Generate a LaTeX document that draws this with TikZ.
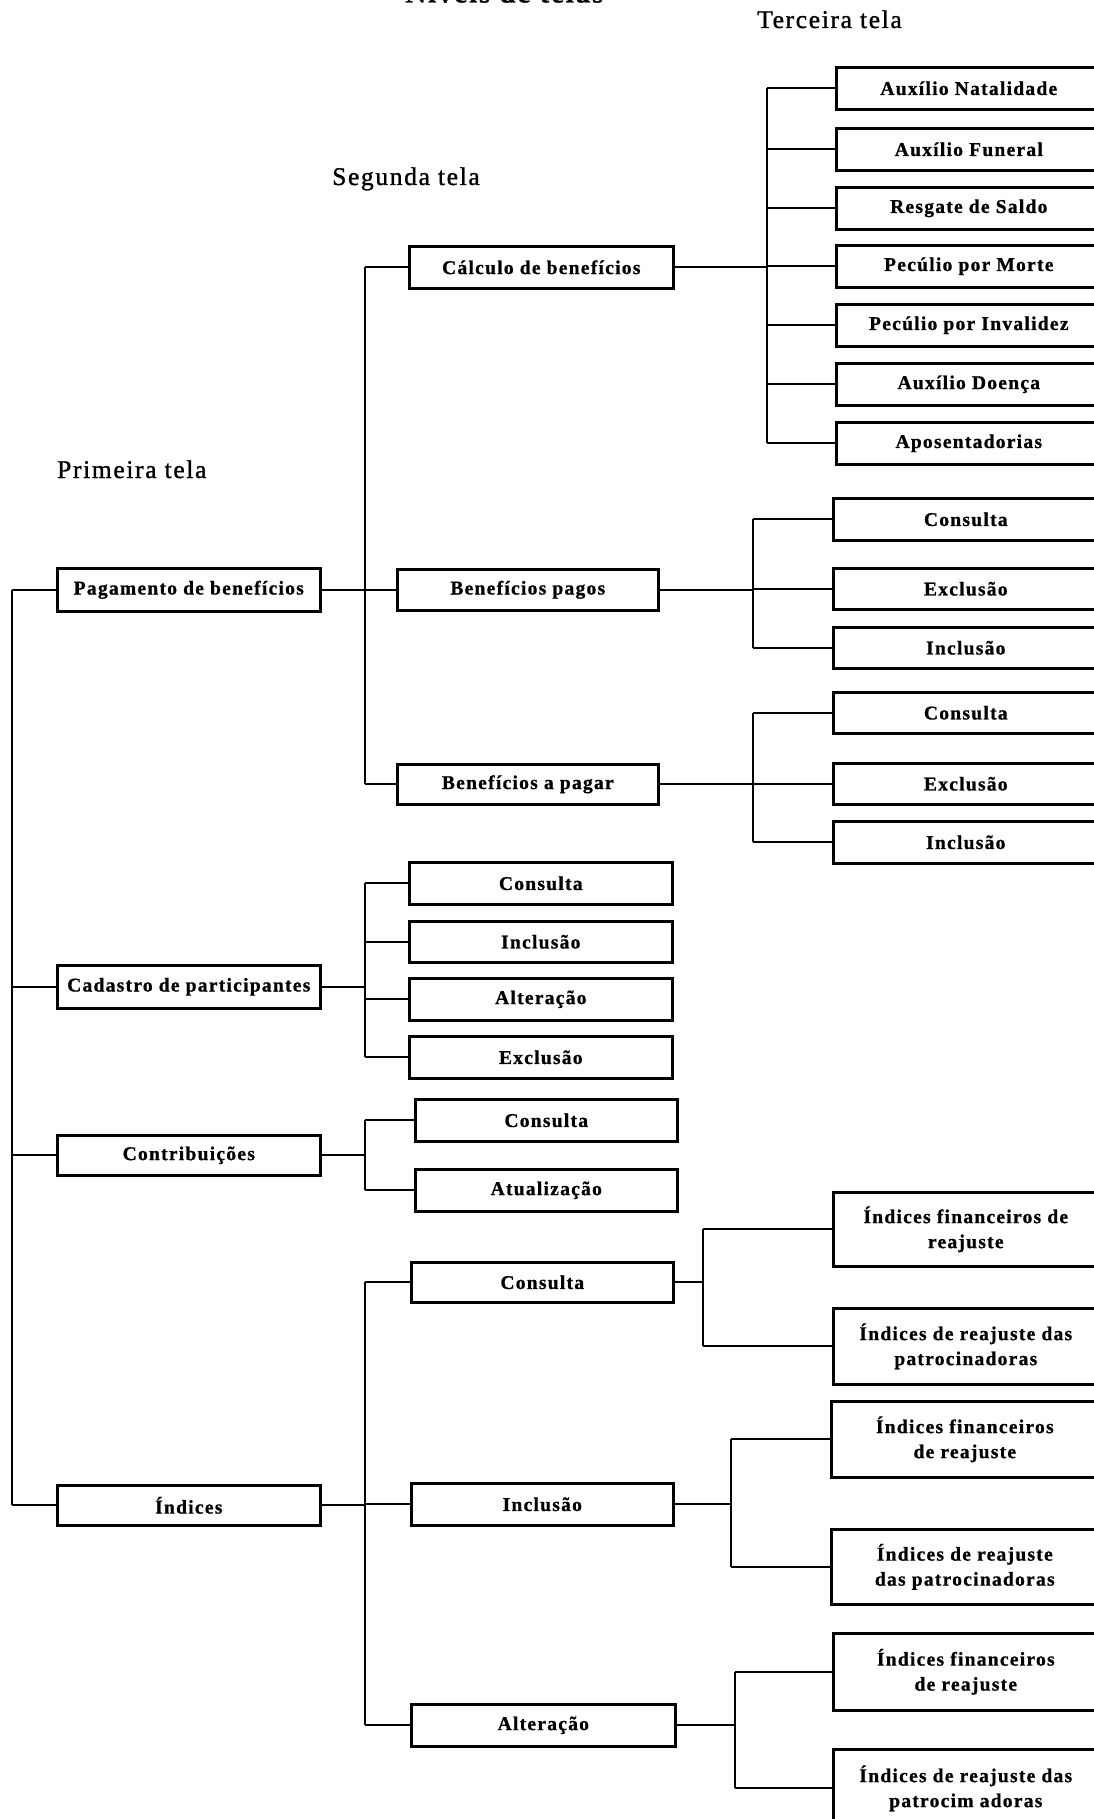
\documentclass[tikz,border=0pt]{standalone}
\usepackage{fontspec}
\setmainfont[LetterSpace=6.5]{Liberation Serif}
\newfontfamily\boxface[LetterSpace=6.5, FakeBold=0.9]{Liberation Serif Bold}
\newfontfamily\headface[LetterSpace=6.5, FakeBold=1.2]{Liberation Serif}
\begin{document}
\begin{tikzpicture}[x=1pt,y=-1pt,
  box/.style={draw, line width=2.6pt, inner sep=0pt, anchor=north west,
    font=\boxface\fontsize{19.5}{25}\selectfont, align=center},
  head/.style={anchor=base west, inner sep=0pt, font=\headface\fontsize{25.5}{30}\selectfont},
  link/.style={line width=2.2pt}]
\useasboundingbox (0,0) rectangle (1094,1819);
\fill[white] (0,0) rectangle (1094,1819);
\clip (0,0) rectangle (1094,1819);

% headings
\node[anchor=base west, inner sep=0pt, font=\boxface\fontsize{29}{34}\selectfont] (title) at (405,2.5) {Níveis de telas};
\node[head] (h3) at (757,28) {Terceira tela};
\node[head] (h2) at (332,185) {Segunda tela};
\node[head] (h1) at (57,478) {Primeira tela};

% bus positions
\coordinate (xA) at (12,0);
\coordinate (xB) at (365,0);
\coordinate (xC) at (767,0);
\coordinate (xD) at (753,0);
\coordinate (xE) at (703,0);
\coordinate (xF) at (731,0);
\coordinate (xG) at (735,0);

% first screen
\node[box, minimum width=263pt, minimum height=43pt] (pag) at (56,567) {Pagamento de benefícios};
\node[box, minimum width=263pt, minimum height=43pt] (cad) at (56,964) {Cadastro de participantes};
\node[box, minimum width=263pt, minimum height=40pt] (con) at (56,1134) {Contribuições};
\node[box, minimum width=263pt, minimum height=40pt] (ind) at (56,1484) {Índices};

% second screen
\node[box, minimum width=264pt, minimum height=42pt] (calc) at (408,245) {Cálculo de benefícios};
\node[box, minimum width=261pt, minimum height=41pt] (bpag) at (396,568) {Benefícios pagos};
\node[box, minimum width=261pt, minimum height=40pt] (bapag) at (396,763) {Benefícios a pagar};

\node[box, minimum width=263pt, minimum height=42pt] (cc1) at (408,861) {Consulta};
\node[box, minimum width=263pt, minimum height=41pt] (cc2) at (408,920) {Inclusão};
\node[box, minimum width=263pt, minimum height=42pt] (cc3) at (408,977) {Alteração};
\node[box, minimum width=263pt, minimum height=42pt] (cc4) at (408,1035) {Exclusão};

\node[box, minimum width=262pt, minimum height=42pt] (kc1) at (414,1098) {Consulta};
\node[box, minimum width=262pt, minimum height=42pt] (kc2) at (414,1168) {Atualização};

\node[box, minimum width=262pt, minimum height=40pt] (ic) at (410,1261) {Consulta};
\node[box, minimum width=262pt, minimum height=42pt] (ii) at (410,1482) {Inclusão};
\node[box, minimum width=264pt, minimum height=42pt] (ia) at (410,1703) {Alteração};

% third screen
\node[box, minimum width=265pt, minimum height=42pt] (nat) at (835,66) {Auxílio Natalidade};
\node[box, minimum width=265pt, minimum height=42pt] (fun) at (835,127) {Auxílio Funeral};
\node[box, minimum width=265pt, minimum height=42pt] (res) at (835,186) {Resgate de Saldo};
\node[box, minimum width=265pt, minimum height=42pt] (mor) at (835,244) {Pecúlio por Morte};
\node[box, minimum width=265pt, minimum height=42pt] (inv) at (835,303) {Pecúlio por Invalidez};
\node[box, minimum width=265pt, minimum height=42pt] (doe) at (835,362) {Auxílio Doença};
\node[box, minimum width=265pt, minimum height=42pt] (apo) at (835,421) {Aposentadorias};

\node[box, minimum width=265pt, minimum height=42pt] (pc) at (832,497) {Consulta};
\node[box, minimum width=265pt, minimum height=41pt] (pe) at (832,567) {Exclusão};
\node[box, minimum width=265pt, minimum height=41pt] (pi) at (832,626) {Inclusão};

\node[box, minimum width=265pt, minimum height=41pt] (ac) at (832,691) {Consulta};
\node[box, minimum width=265pt, minimum height=41pt] (ae) at (832,762) {Exclusão};
\node[box, minimum width=265pt, minimum height=42pt] (ai) at (832,820) {Inclusão};

\node[box, minimum width=265pt, minimum height=74pt] (cf) at (832,1191) {Índices financeiros de\\reajuste};
\node[box, minimum width=265pt, minimum height=76pt] (cp) at (832,1307) {Índices de reajuste das\\patrocinadoras};
\node[box, minimum width=267pt, minimum height=76pt] (nf) at (830,1400) {Índices financeiros\\de reajuste};
\node[box, minimum width=267pt, minimum height=75pt] (np) at (830,1528) {Índices de reajuste\\das patrocinadoras};
\node[box, minimum width=265pt, minimum height=77pt] (af) at (832,1632) {Índices financeiros\\de reajuste};
\node[box, minimum width=265pt, minimum height=78pt] (ap) at (832,1748) {Índices de reajuste das\\patrocim adoras};

% first-level trunk
\draw[link] (pag.west -| xA) -- (ind.west -| xA);
\foreach \c in {pag,cad,con,ind} \draw[link] (\c.west) -- (\c.west -| xA);

% second-level branches
\draw[link] (pag.east) -- (pag.east -| xB);
\draw[link] (calc.west -| xB) -- (bapag.west -| xB);
\foreach \c in {calc,bpag,bapag} \draw[link] (\c.west) -- (\c.west -| xB);

\draw[link] (cad.east) -- (cad.east -| xB);
\draw[link] (cc1.west -| xB) -- (cc4.west -| xB);
\foreach \c in {cc1,cc2,cc3,cc4} \draw[link] (\c.west) -- (\c.west -| xB);

\draw[link] (con.east) -- (con.east -| xB);
\draw[link] (kc1.west -| xB) -- (kc2.west -| xB);
\foreach \c in {kc1,kc2} \draw[link] (\c.west) -- (\c.west -| xB);

\draw[link] (ind.east) -- (ind.east -| xB);
\draw[link] (ic.west -| xB) -- (ia.west -| xB);
\foreach \c in {ic,ii,ia} \draw[link] (\c.west) -- (\c.west -| xB);

% third-level branches
\draw[link] (calc.east) -- (calc.east -| xC);
\draw[link] (nat.west -| xC) -- (apo.west -| xC);
\foreach \c in {nat,fun,res,mor,inv,doe,apo} \draw[link] (\c.west) -- (\c.west -| xC);

\draw[link] (bpag.east) -- (bpag.east -| xD);
\draw[link] (pc.west -| xD) -- (pi.west -| xD);
\foreach \c in {pc,pe,pi} \draw[link] (\c.west) -- (\c.west -| xD);

\draw[link] (bapag.east) -- (bapag.east -| xD);
\draw[link] (ac.west -| xD) -- (ai.west -| xD);
\foreach \c in {ac,ae,ai} \draw[link] (\c.west) -- (\c.west -| xD);

\draw[link] (ic.east) -- (ic.east -| xE);
\draw[link] (cf.west -| xE) -- (cp.west -| xE);
\foreach \c in {cf,cp} \draw[link] (\c.west) -- (\c.west -| xE);

\draw[link] (ii.east) -- (ii.east -| xF);
\draw[link] (nf.west -| xF) -- (np.west -| xF);
\foreach \c in {nf,np} \draw[link] (\c.west) -- (\c.west -| xF);

\draw[link] (ia.east) -- (ia.east -| xG);
\draw[link] (af.west -| xG) -- (ap.west -| xG);
\foreach \c in {af,ap} \draw[link] (\c.west) -- (\c.west -| xG);
\end{tikzpicture}
\end{document}
